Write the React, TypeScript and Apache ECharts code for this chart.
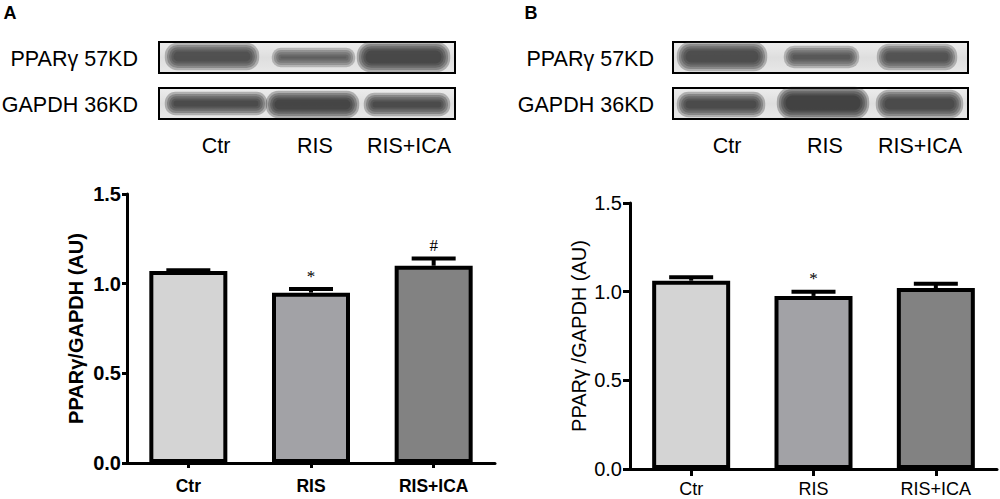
import React, { useEffect, useRef } from "react";
import * as echarts from "echarts";

const categories = ["Ctr", "RIS", "RIS+ICA"];
const meanA = [1.07, 0.95, 1.1];
const errA = [0.005, 0.02, 0.04];
const markA = ["", "*", "#"];
const meanB = [1.062, 0.976, 1.02];
const errB = [0.02, 0.024, 0.024];
const markB = ["", "*", ""];
const barColors = ["#d4d4d4", "#a2a2a6", "#828282"];
const blotRows = ["PPARγ 57KD", "GAPDH 36KD"];

const SANS = "'Liberation Sans', Arial, sans-serif";

// blot band shapes: [x0, x1, y0, y1, color]
const bandsA = [
  [167, 257, 45, 68, "#343434"],
  [274, 353, 50, 65, "#444444"],
  [359, 448, 44, 70, "#2a2a2a"],
  [167, 265, 94, 113, "#2e2e2e"],
  [268, 357, 93, 116, "#282828"],
  [366, 448, 95, 114, "#303030"],
];
const bandsB = [
  [679, 765, 44, 69, "#323232"],
  [786, 857, 48, 66, "#404040"],
  [879, 955, 46, 68, "#383838"],
  [679, 763, 94, 115, "#303030"],
  [779, 867, 89, 117, "#262626"],
  [878, 961, 92, 116, "#2f2f2f"],
];

function blotGraphics(
  letter: string,
  letterX: number,
  boxX0: number,
  boxX1: number,
  labelRight: number,
  laneCenters: number[],
  bands: any[]
) {
  const els: any[] = [];
  els.push({
    type: "text",
    x: letterX,
    y: 13,
    style: { text: letter, fontSize: 18, fontWeight: "bold", fontFamily: SANS, fill: "#000", align: "center", verticalAlign: "middle" },
  });
  const boxes = [
    [42, 73],
    [88, 119],
  ];
  boxes.forEach((b, i) => {
    els.push({
      type: "rect",
      shape: { x: boxX0, y: b[0], width: boxX1 - boxX0, height: b[1] - b[0] },
      style: {
        fill: {
          type: "linear", x: 0, y: 0, x2: 0, y2: 1,
          colorStops: [
            { offset: 0, color: "#ededed" },
            { offset: 0.5, color: "#dedede" },
            { offset: 1, color: "#e8e8e8" },
          ],
        },
        stroke: "#000",
        lineWidth: 2,
      },
      z: 1,
    });
    els.push({
      type: "text",
      x: labelRight,
      y: (b[0] + b[1]) / 2 + 1,
      style: { text: blotRows[i], fontSize: 21.5, fontFamily: SANS, fill: "#000", align: "right", verticalAlign: "middle" },
    });
  });
  bands.forEach((bd) => {
    const [x0, x1, y0, y1, c] = bd;
    const layers = 5;
    for (let k = 0; k < layers; k++) {
      const inset = (k - 1) * 2.2;
      const w = x1 - x0 - 2 * inset;
      const h = y1 - y0 - 2 * inset;
      if (w <= 0 || h <= 0) continue;
      els.push({
        type: "rect",
        shape: { x: x0 + inset, y: y0 + inset, width: w, height: h, r: h / 2.2 },
        style: { fill: c, opacity: 0.3 },
        z: 2,
        silent: true,
      });
    }
  });
  laneCenters.forEach((cx, i) => {
    els.push({
      type: "text",
      x: cx,
      y: 146,
      style: { text: categories[i], fontSize: 21.5, fontFamily: SANS, fill: "#000", align: "center", verticalAlign: "middle" },
    });
  });
  return els;
}

function errorSeries(means: number[], errs: number[], marks: string[], axisIdx: number) {
  return {
    type: "custom",
    xAxisIndex: axisIdx,
    yAxisIndex: axisIdx,
    z: 5,
    data: means.map((m, i) => [i, m, errs[i]]),
    renderItem: (params: any, api: any) => {
      const i = api.value(0);
      const m = api.value(1);
      const e = api.value(2);
      const base = api.coord([i, m]);
      const top = api.coord([i, m + e]);
      const half = 22;
      const children: any[] = [
        { type: "line", shape: { x1: base[0], y1: base[1], x2: top[0], y2: top[1] }, style: { stroke: "#000", lineWidth: 4 } },
        { type: "line", shape: { x1: top[0] - half, y1: top[1], x2: top[0] + half, y2: top[1] }, style: { stroke: "#000", lineWidth: 4 } },
      ];
      const mk = marks[params.dataIndex];
      if (mk) {
        children.push({
          type: "text",
          x: top[0],
          y: top[1] - 13,
          style: { text: mk, fontSize: 17, fontFamily: "'Liberation Serif', 'Times New Roman', serif", fill: "#000", align: "center", verticalAlign: "middle" },
        });
      }
      return { type: "group", children };
    },
  };
}

function barSeries(means: number[], axisIdx: number) {
  return {
    type: "bar",
    xAxisIndex: axisIdx,
    yAxisIndex: axisIdx,
    barWidth: 78,
    z: 2,
    data: means.map((v, i) => ({ value: v, itemStyle: { color: barColors[i] } })),
    itemStyle: { borderColor: "#000", borderWidth: 4 },
  };
}

export default function App() {
  const ref = useRef<HTMLDivElement>(null);
  useEffect(() => {
    document.body.style.margin = "0";
    const chart = echarts.init(ref.current!, null, { renderer: "svg" });
    const axisLine = { show: true, lineStyle: { color: "#000", width: 3 } };
    const xAxisBase = (bold: boolean, margin: number, tickLen: number, fs: number) => ({
      type: "category",
      data: categories,
      axisLine,
      axisTick: { show: true, alignWithLabel: true, length: tickLen, lineStyle: { color: "#000", width: 3 } },
      axisLabel: { color: "#000", fontSize: fs, fontWeight: bold ? "bold" : "normal", fontFamily: SANS, margin },
    });
    const yAxisBase = (bold: boolean, name: string, margin: number, tickLen: number, nameGap: number) => ({
      type: "value",
      min: 0,
      max: 1.5,
      interval: 0.5,
      splitLine: { show: false },
      axisLine,
      axisTick: { show: true, length: tickLen, lineStyle: { color: "#000", width: 3 } },
      axisLabel: {
        color: "#000",
        fontSize: 20,
        fontWeight: bold ? "bold" : "normal",
        fontFamily: SANS,
        margin,
        formatter: (v: number) => v.toFixed(1),
      },
      name,
      nameLocation: "middle",
      nameGap,
      nameRotate: 90,
      nameTextStyle: { color: "#000", fontSize: 20, fontWeight: bold ? "bold" : "normal", fontFamily: SANS },
    });
    chart.setOption({
      animation: false,
      backgroundColor: "#fff",
      grid: [
        { left: 127, width: 368, top: 194, height: 269 },
        { left: 630, width: 367, top: 203, height: 266 },
      ],
      xAxis: [
        { ...xAxisBase(true, 14, 5, 17.5), gridIndex: 0 },
        { ...xAxisBase(false, 11, 7, 18), gridIndex: 1 },
      ],
      yAxis: [
        { ...yAxisBase(true, "PPARγ/GAPDH (AU)", 6, 5, 41), gridIndex: 0 },
        { ...yAxisBase(false, "PPARγ /GAPDH (AU)", 8, 7, 41), gridIndex: 1 },
      ],
      series: [barSeries(meanA, 0), errorSeries(meanA, errA, markA, 0), barSeries(meanB, 1), errorSeries(meanB, errB, markB, 1)],
      graphic: [
        ...blotGraphics("A", 10, 159, 455, 138, [216, 315, 409], bandsA),
        ...blotGraphics("B", 531, 673, 968, 654, [727, 825, 920], bandsB),
      ],
    });
    return () => chart.dispose();
  }, []);
  return <div ref={ref} style={{ width: 1000, height: 499 }} />;
}
